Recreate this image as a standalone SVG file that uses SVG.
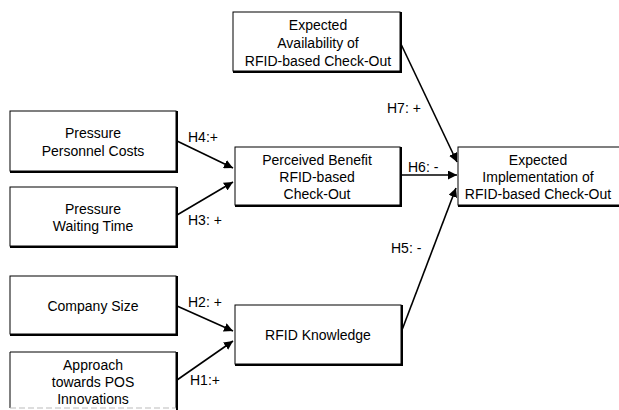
<svg xmlns="http://www.w3.org/2000/svg" width="619" height="410" viewBox="0 0 619 410">
<defs>
<style>
.box{fill:#fff;stroke:#000;stroke-width:1}
.sh{fill:none;stroke:#000;stroke-width:2}
text{font-family:"Liberation Sans",Arial,sans-serif;font-size:14px;fill:#000}
.c{text-anchor:middle}
.e{stroke:#000;stroke-width:1.6;fill:none;marker-end:url(#ah)}
</style>
<marker id="ah" viewBox="0 0 10 10" refX="10" refY="5" markerWidth="9" markerHeight="9" markerUnits="userSpaceOnUse" orient="auto">
<path d="M0,0 L10,5 L0,10 z" fill="#000"/>
</marker>
</defs>
<rect width="619" height="410" fill="#fff"/>
<g id="connectors">
<line class="e" x1="177" y1="141" x2="233" y2="168"/>
<line class="e" x1="177" y1="215" x2="233" y2="182"/>
<line class="e" x1="177" y1="306" x2="233" y2="331"/>
<line class="e" x1="177" y1="380" x2="233" y2="341"/>
<line class="e" x1="400" y1="42" x2="457" y2="162"/>
<line class="e" x1="401" y1="175" x2="457" y2="175"/>
<line class="e" x1="402" y1="330" x2="456" y2="188"/>
<text x="188" y="142">H4:+</text>
<text x="188" y="225">H3: +</text>
<text x="188" y="307">H2: +</text>
<text x="190" y="385">H1:+</text>
<text x="387" y="113">H7: +</text>
<text x="408" y="172">H6: -</text>
<text x="391" y="253">H5: -</text>
</g>
<g id="n-availability">
<rect class="box" x="233" y="12" width="167" height="59"/>
<path class="sh" d="M401,12 V72 H233"/>
<text class="c" x="318" y="30">Expected</text>
<text class="c" x="318" y="48">Availability of</text>
<text class="c" x="318" y="66">RFID-based Check-Out</text>
</g>
<g id="n-personnel">
<rect class="box" x="10" y="111" width="166" height="60"/>
<path class="sh" d="M177,111 V172 H10"/>
<text class="c" x="93" y="138">Pressure</text>
<text class="c" x="93" y="156">Personnel Costs</text>
</g>
<g id="n-benefit">
<rect class="box" x="235" y="147" width="165" height="58"/>
<path class="sh" d="M401,147 V206 H235"/>
<text class="c" x="317" y="165">Perceived Benefit</text>
<text class="c" x="317" y="182">RFID-based</text>
<text class="c" x="317" y="199">Check-Out</text>
</g>
<g id="n-implementation">
<rect class="box" x="458" y="147" width="170" height="58"/>
<path class="sh" d="M458,206 H619"/>
<text class="c" x="538" y="165">Expected</text>
<text class="c" x="538" y="182">Implementation of</text>
<text class="c" x="538" y="199">RFID-based Check-Out</text>
</g>
<g id="n-waiting">
<rect class="box" x="10" y="187" width="166" height="59"/>
<path class="sh" d="M177,187 V247 H10"/>
<text class="c" x="93" y="214">Pressure</text>
<text class="c" x="93" y="231">Waiting Time</text>
</g>
<g id="n-size">
<rect class="box" x="10" y="276" width="166" height="58"/>
<path class="sh" d="M177,276 V335 H10"/>
<text class="c" x="93" y="311">Company Size</text>
</g>
<g id="n-knowledge">
<rect class="box" x="235" y="305" width="166" height="59"/>
<path class="sh" d="M402,305 V365 H235"/>
<text class="c" x="318" y="340">RFID Knowledge</text>
</g>
<g id="n-approach">
<path class="box" d="M10,408 V352 H176 V408"/>
<path class="sh" d="M177,352 V410"/>
<line x1="10" y1="408" x2="176" y2="408" stroke="#bbb" stroke-width="1" stroke-dasharray="6,3"/>
<text class="c" x="93" y="370">Approach</text>
<text class="c" x="93" y="387">towards POS</text>
<text class="c" x="93" y="404">Innovations</text>
</g>
</svg>
